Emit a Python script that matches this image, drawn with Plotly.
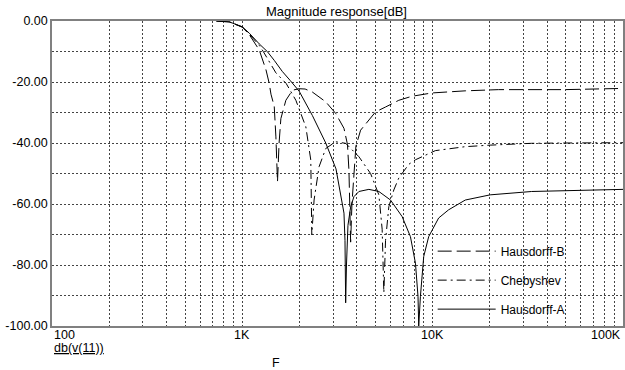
import math
import plotly.graph_objects as go

# ---------------- data ----------------
freq_b = [731, 855, 1000, 1088, 1227, 1331, 1385, 1414, 1471, 1501, 1530, 1560, 1594, 1693,
          1834, 1988, 2137, 2334, 2743, 3094, 3420, 3568, 3632, 3676, 3707, 3766, 3857, 3951,
          4182, 5012, 5654, 6637, 7763, 9881, 14836, 22160, 49520, 73980, 100000]
db_b = [0, -0.3, -2.0, -4.5, -9.5, -16.0, -20.5, -24.0, -28.0, -38.0, -52.7, -40.0, -32.0, -26.0,
        -22.7, -22.2, -22.3, -23.3, -26.5, -30.3, -35.2, -40.5, -49.0, -60.0, -72.5, -60.0, -49.0, -41.0,
        -35.8, -29.8, -28.2, -26.0, -24.7, -23.6, -22.9, -22.5, -22.5, -22.4, -22.1]

freq_c = [731, 855, 1000, 1088, 1227, 1288, 1501, 1700, 1911, 2156, 2289, 2317, 2382, 2530,
          2743, 3094, 3491, 4097, 4718, 5216, 5428, 5540, 5654, 5884, 6249, 6637, 7486, 8120,
          10330, 14836, 20050, 33110, 49520, 100000]
db_c = [0, -0.3, -2.0, -4.3, -8.0, -10.0, -17.0, -20.5, -26.0, -34.7, -45.6, -70.1, -58.7, -47.8,
        -41.8, -39.6, -40.1, -44.5, -50.0, -57.0, -68.3, -89.1, -72.0, -60.9, -55.4, -51.5, -47.0, -45.5,
        -42.5, -41.2, -40.7, -40.1, -40.0, -39.9]

freq_a = [731, 855, 1000, 1088, 1227, 1352, 1471, 1620, 1784, 1988, 2334, 2743, 3105, 3338,
          3420, 3462, 3491, 3525, 3589, 3707, 3857, 4097, 4623, 5216, 6005, 6908, 7641, 8120,
          8375, 8447, 8622, 8974, 9531, 10750, 12130, 14836, 20050, 33110, 49520, 100000]
db_a = [0, -0.3, -1.9, -4.0, -7.5, -10.0, -12.9, -16.5, -19.5, -23.0, -31.0, -40.0, -48.5, -59.0,
        -63.0, -72.0, -92.4, -80.0, -67.0, -61.0, -57.6, -55.9, -55.2, -55.9, -58.7, -64.1, -70.7, -79.4,
        -90.3, -100.0, -90.3, -77.2, -70.7, -64.6, -61.9, -58.7, -57.0, -55.9, -55.6, -55.2]

x_grid = [100, 200, 300, 400, 500, 600, 700, 800, 900,
          1000, 2000, 3000, 4000, 5000, 6000, 7000, 8000, 9000,
          10000, 20000, 30000, 40000, 50000, 60000, 70000, 80000, 90000, 100000]
x_labels = ["100", "1K", "10K", "100K"]
x_label_vals = [100, 1000, 10000, 100000]
y_grid = [-100, -90, -80, -70, -60, -50, -40, -30, -20, -10, 0]
y_text = ["-100.00", "", "-80.00", "", "-60.00", "", "-40.00", "", "-20.00", "", "0.00"]

FONT = "Liberation Sans, Arial, sans-serif"

fig = go.Figure()
fig.add_trace(go.Scatter(x=freq_b, y=db_b, mode="lines", name="Hausdorff-B", legendgroup="b",
                         line=dict(color="black", width=1, dash="14px,5px")))
fig.add_trace(go.Scatter(x=freq_c, y=db_c, mode="lines", name="Chebyshev", legendgroup="c",
                         line=dict(color="black", width=1, dash="9px,4px,2px,4px")))
fig.add_trace(go.Scatter(x=freq_a, y=db_a, mode="lines", name="Hausdorff-A", legendgroup="a",
                         line=dict(color="black", width=1)))

fig.update_layout(
    width=625, height=370,
    margin=dict(l=52, r=0, t=21, b=44),
    paper_bgcolor="white", plot_bgcolor="white",
    font=dict(family=FONT, size=12, color="black"),
    showlegend=True,
    legend=dict(x=0.6667, xanchor="left", y=0.293, yanchor="top",
                bgcolor="rgba(0,0,0,0)", borderwidth=0,
                itemwidth=58, tracegroupgap=10,
                font=dict(family=FONT, size=12, color="black")),
    xaxis=dict(type="log", range=[2, 5], tickvals=x_grid, showticklabels=False,
               showgrid=True, gridcolor="#444444", griddash="2px,2px", gridwidth=1,
               showline=True, linecolor="#808080", linewidth=1.5, mirror=True,
               ticks="", zeroline=False, fixedrange=True),
    yaxis=dict(range=[-100, 0], tickvals=y_grid, ticktext=y_text,
               showgrid=True, gridcolor="#444444", griddash="2px,2px", gridwidth=1,
               showline=True, linecolor="#808080", linewidth=1.5, mirror=True,
               ticks="", zeroline=False, tickfont=dict(family=FONT, size=12.5, color="black"),
               fixedrange=True),
)

anchors = ["left", "center", "center", "right"]
for v, t, a in zip(x_label_vals, x_labels, anchors):
    fig.add_annotation(x=math.log10(v), xref="x", y=0, yref="paper", text=t, showarrow=False,
                       xanchor=a, yanchor="top", yshift=0,
                       font=dict(family=FONT, size=12.5, color="black"))
fig.add_annotation(xref="paper", yref="paper", x=(337 - 52) / 573, y=(326 - 12) / 305,
                   text="Magnitude response[dB]", showarrow=False,
                   xanchor="center", yanchor="middle",
                   font=dict(family=FONT, size=13, color="black"))
fig.add_annotation(xref="paper", yref="paper", x=0, y=(326 - 348) / 305, text="<u>db(v(11))</u>",
                   showarrow=False, xanchor="left", yanchor="middle",
                   font=dict(family=FONT, size=12.5, color="black"))
fig.add_annotation(xref="paper", yref="paper", x=(277 - 52) / 573, y=(326 - 363) / 305, text="F",
                   showarrow=False, xanchor="center", yanchor="middle",
                   font=dict(family=FONT, size=12.5, color="black"))

fig.write_html("out.html")
